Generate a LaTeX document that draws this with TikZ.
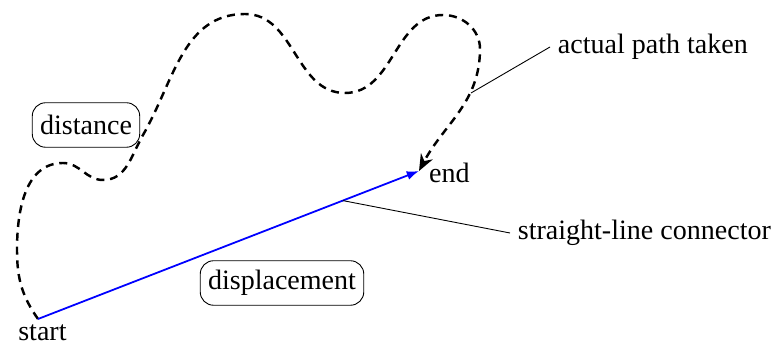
\documentclass[tikz,border=0pt]{standalone}
\usepackage{fontspec}
\setmainfont{Liberation Serif}
\usepackage{tikz}
\usetikzlibrary{positioning,arrows.meta}

\begin{document}
\begin{tikzpicture}[
  x=0.0158cm, y=0.0158cm,
  every node/.style={font=\fontsize{12.6}{14}\selectfont},
  tag/.style={draw, rectangle, rounded corners=6pt, inner xsep=3.5pt,
              minimum height=20pt},
  walk/.style={line width=1.1pt, dash pattern=on 3.6pt off 2.6pt,
               -{Stealth[length=7.5pt,width=6pt]}},
  direct/.style={thick, blue, -{Latex[length=5.5pt,width=4pt]}},
  leader/.style={thin}
]
\useasboundingbox (0,0) rectangle (773,345);

% ---- End points ----
\coordinate (start) at (38,26);
\coordinate (end)   at (419,174);
\node[below=-1pt of start, xshift=2pt] (startlbl) {start};
\node[right=1pt of end, yshift=-1pt] (endlbl) {end};

% ---- Actual path (dashed) ----
\draw[walk] (start) to[out=125,in=-90] (17,95)
  to[out=90,in=180] (63,182)
  to[out=0,in=180] (103,165)
  to[out=0,in=240] (143,210)
  to[out=60,in=180] (245,331)
  to[out=0,in=180] (345,252)
  to[out=0,in=180] (443,330)
  to[out=0,in=90] (480,296)
  to[out=-90,in=62] (end);
\coordinate (onwalk) at (471,252);

% ---- Straight-line connector ----
\draw[direct] (start) -- (end) coordinate[pos=0.8] (ondirect);

% ---- Boxed labels ----
\node[tag] (dist) at (86,220) {distance};
\node[tag] (disp) at (282,62) {displacement};

% ---- Callouts ----
\node[anchor=west] (pathlbl) at (550,298) {actual path taken};
\node[anchor=west] (linelbl) at (510,112) {straight-line connector};
\draw[leader] (onwalk) -- (pathlbl.west);
\draw[leader] (ondirect) -- (linelbl.west);

\end{tikzpicture}
\end{document}
